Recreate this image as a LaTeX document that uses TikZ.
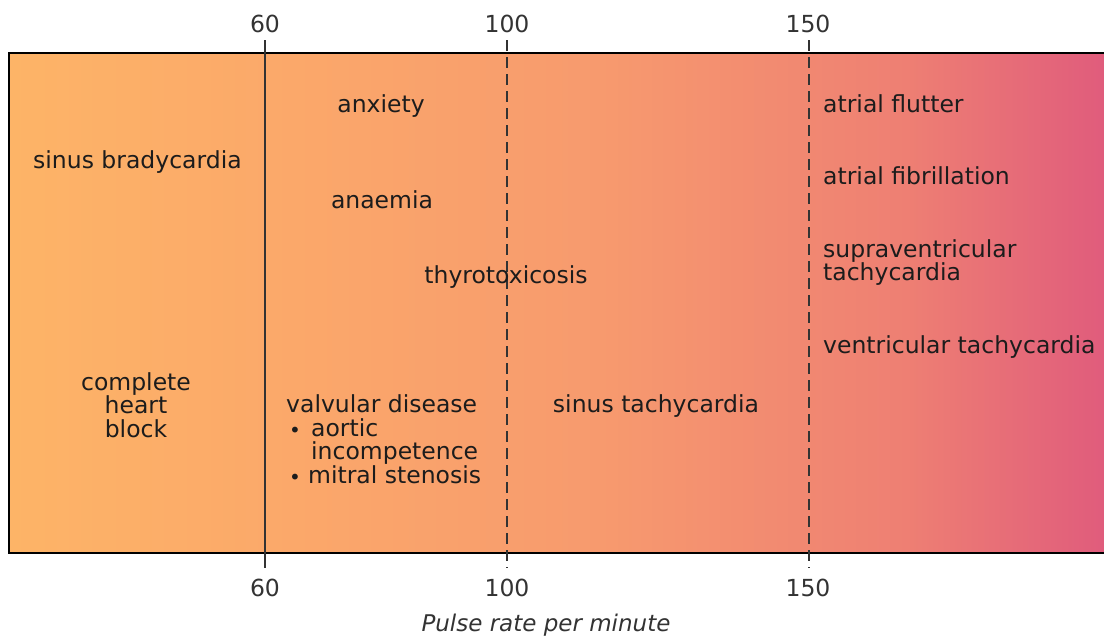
\documentclass[tikz,border=0pt]{standalone}
\usepackage{fontspec}
\setmainfont{DejaVu Sans}
\definecolor{c0}{HTML}{FDB467}
\definecolor{c1}{HTML}{FBA86A}
\definecolor{c2}{HTML}{F79A6E}
\definecolor{c3}{HTML}{EE7F73}
\definecolor{c4}{HTML}{E05C7C}
\definecolor{txt}{HTML}{1C1C1C}
\definecolor{axis}{HTML}{333333}
\pgfdeclarehorizontalshading{pulseshade}{100bp}{color(0bp)=(c0); color(25bp)=(c0); color(38bp)=(c1); color(52bp)=(c2); color(66bp)=(c3); color(75bp)=(c4); color(100bp)=(c4)}
\begin{document}
\begin{tikzpicture}[x=1pt,y=-1pt,
  lbl/.style={font=\fontsize{23.5}{23.5}\selectfont, text=txt, inner sep=0pt},
  ticklbl/.style={font=\fontsize{23.5}{23.5}\selectfont, text=axis, inner sep=0pt, anchor=base},
  solidline/.style={draw=axis, line width=1.8pt},
  dashline/.style={draw=axis, line width=1.5pt, dash pattern=on 11pt off 6pt},
  border/.style={draw=black, line width=2.5pt}]
\useasboundingbox (0,0) rectangle (1104,641);
% background band
\shade[shading=pulseshade] (9,53) rectangle (1104,553);
\draw[border] (1104,53) -- (9,53) -- (9,553) -- (1104,553);
% grid lines
\coordinate (s60t) at (265,40);  \coordinate (s60b) at (265,568);
\coordinate (d100t) at (507,40); \coordinate (d100b) at (507,568);
\coordinate (d150t) at (809,40); \coordinate (d150b) at (809,568);
\draw[solidline] (s60t) -- (s60b);
\draw[dashline] (d100t) -- (d100b);
\draw[dashline] (d150t) -- (d150b);
% axis labels
\node[ticklbl] (t60) at (265,32) {60};
\node[ticklbl] (t100) at (507,32) {100};
\node[ticklbl] (t150) at (808,32) {150};
\node[ticklbl] (b60) at (265,596) {60};
\node[ticklbl] (b100) at (507,596) {100};
\node[ticklbl] (b150) at (808,596) {150};
\node[ticklbl, font=\fontsize{23}{23}\selectfont\itshape] (xlab) at (546,631) {Pulse rate per minute};
% labels
\node[lbl, anchor=base] (anx) at (381,112) {anxiety};
\node[lbl, anchor=base west] (sbr) at (33,168) {sinus bradycardia};
\node[lbl, anchor=base] (ana) at (382,208) {anaemia};
\node[lbl, anchor=base] (thy) at (506,283) {thyrotoxicosis};
\node[lbl, anchor=base west] (afl) at (823,112) {atrial flutter};
\node[lbl, anchor=base west] (afi) at (823,184) {atrial fibrillation};
\node[lbl, anchor=base west] (svt1) at (823,257) {supraventricular};
\node[lbl, anchor=base west] (svt2) at (823,280) {tachycardia};
\node[lbl, anchor=base west] (vt) at (823,353) {ventricular tachycardia};
\node[lbl, anchor=base] (chb1) at (136,390) {complete};
\node[lbl, anchor=base] (chb2) at (136,413) {heart};
\node[lbl, anchor=base] (chb3) at (136,437) {block};
\node[lbl, anchor=base] (stc) at (656,412) {sinus tachycardia};
\node[lbl, anchor=base west] (vd1) at (286,412) {valvular disease};
\node[lbl, anchor=base west] (vd2b) at (289,437) {\fontsize{20}{20}\selectfont•};
\node[lbl, anchor=base west] (vd2) at (311,436) {aortic};
\node[lbl, anchor=base west] (vd3) at (311,459) {incompetence};
\node[lbl, anchor=base west] (vd4b) at (289,484) {\fontsize{20}{20}\selectfont•};
\node[lbl, anchor=base west] (vd4) at (308,483) {mitral stenosis};
\end{tikzpicture}
\end{document}
